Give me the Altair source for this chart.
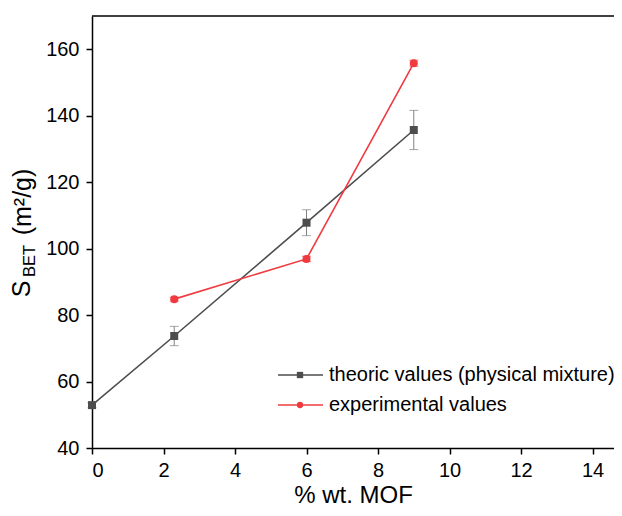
import altair as alt
import pandas as pd

# ---- data ----
series_names = ["theoric values (physical mixture)", "experimental values"]
x_theo = [0, 2.3, 6, 9]
y_theo = [52.9, 73.7, 107.8, 135.7]
e_theo = [0.8, 2.9, 3.9, 5.9]
x_exp = [2.3, 6, 9]
y_exp = [84.8, 96.9, 155.8]
e_exp = [0.6, 0.8, 0.9]

line_colors = ["#4d4d4d", "#ef3b40"]
err_colors = ["#808080", "#ef3b40"]
shapes = ["square", "circle"]
x_ticks = list(range(0, 15))
y_ticks = list(range(40, 170, 10))

rows = []
for x, y, e in zip(x_theo, y_theo, e_theo):
    rows.append(dict(series=series_names[0], x=x, y=y, lo=y - e, hi=y + e))
for x, y, e in zip(x_exp, y_exp, e_exp):
    rows.append(dict(series=series_names[1], x=x, y=y, lo=y - e, hi=y + e))
df = pd.DataFrame(rows)

W, H = 522, 432
FONT = "Liberation Sans"

xs = alt.Scale(domain=[0, 14.6], nice=False, zero=False)
ys = alt.Scale(domain=[40, 170], nice=False, zero=False)
cs = alt.Scale(domain=series_names, range=line_colors)
es = alt.Scale(domain=series_names, range=err_colors)
ss = alt.Scale(domain=series_names, range=shapes)

x_axis = alt.Axis(
    values=x_ticks,
    labelExpr="datum.value % 2 === 0 ? datum.label : ''",
    tickSize={"condition": {"test": "datum.value % 2 === 0", "value": 6}, "value": 3},
    title="% wt. MOF",
    titleFontSize=24,
    titleFont=FONT,
    titleFontWeight="normal",
    titleColor="black",
    titlePadding=3,
    labelPadding=6,
    grid=False,
)
y_axis = alt.Axis(
    values=y_ticks,
    labelExpr="datum.value % 20 === 0 ? datum.label : ''",
    tickSize={"condition": {"test": "datum.value % 20 === 0", "value": 6}, "value": 3},
    title=None,
    labelPadding=7,
    grid=False,
)

base = alt.Chart(df)
X = alt.X("x:Q", scale=xs, axis=x_axis)
Y = alt.Y("y:Q", scale=ys, axis=y_axis)

lines = base.mark_line(strokeWidth=1.6).encode(
    x=X, y=Y, color=alt.Color("series:N", scale=cs, legend=None)
)
err = base.mark_rule(strokeWidth=1).encode(
    x=alt.X("x:Q", scale=xs), y=alt.Y("lo:Q", scale=ys), y2="hi:Q",
    stroke=alt.Stroke("series:N", scale=es, legend=None),
)
cap_lo = base.mark_tick(orient="horizontal", size=9, thickness=1).encode(
    x=alt.X("x:Q", scale=xs), y=alt.Y("lo:Q", scale=ys),
    color=alt.Color("series:N", scale=es, legend=None),
)
cap_hi = base.mark_tick(orient="horizontal", size=9, thickness=1).encode(
    x=alt.X("x:Q", scale=xs), y=alt.Y("hi:Q", scale=ys),
    color=alt.Color("series:N", scale=es, legend=None),
)
points = base.mark_point(filled=True, opacity=1, size=64).encode(
    x=X, y=Y,
    color=alt.Color("series:N", scale=cs, legend=None),
    shape=alt.Shape("series:N", scale=ss, legend=None),
)

anno = alt.Chart(pd.DataFrame({"a": [0]}))
top_border = anno.mark_rule(color="black", strokeWidth=1.5).encode(
    x=alt.value(0), x2=alt.value(W), y=alt.value(0)
)

# y-axis title with subscript
t_s = anno.mark_text(text="S", angle=270, fontSize=25, font=FONT, color="black",
                     align="center", baseline="middle").encode(x=alt.value(-70), y=alt.value(273))
t_bet = anno.mark_text(text="BET", angle=270, fontSize=16.5, font=FONT, color="black",
                       align="center", baseline="middle").encode(x=alt.value(-62), y=alt.value(245))
t_unit = anno.mark_text(text="(m²/g)", angle=270, fontSize=25, font=FONT, color="black",
                        align="center", baseline="middle").encode(x=alt.value(-69), y=alt.value(186))

# manual legend
leg = []
leg_y = [359, 389]
for i, name in enumerate(series_names):
    leg.append(anno.mark_rule(color=line_colors[i], strokeWidth=1.6).encode(
        x=alt.value(186), x2=alt.value(231), y=alt.value(leg_y[i])))
    leg.append(anno.mark_point(filled=True, opacity=1, size=40, shape=shapes[i],
                               color=line_colors[i]).encode(
        x=alt.value(208), y=alt.value(leg_y[i])))
    leg.append(anno.mark_text(text=name, fontSize=20, font=FONT, color="black",
                              align="left", baseline="middle").encode(
        x=alt.value(237), y=alt.value(leg_y[i])))

chart = alt.layer(
    err, cap_lo, cap_hi, lines, points, top_border, t_s, t_bet, t_unit, *leg
).resolve_scale(color="independent").properties(
    width=W, height=H,
    autosize=alt.AutoSizeParams(type="none"),
    padding={"left": 84, "top": 8, "right": 0, "bottom": 60},
).configure_view(stroke=None).configure_axis(
    domainColor="black", domainWidth=1.5, tickColor="black", tickWidth=1.5,
    labelFont=FONT, labelFontSize=20, labelColor="black",
)

chart.save("out.html", embed_options={"renderer": "svg", "actions": False})
